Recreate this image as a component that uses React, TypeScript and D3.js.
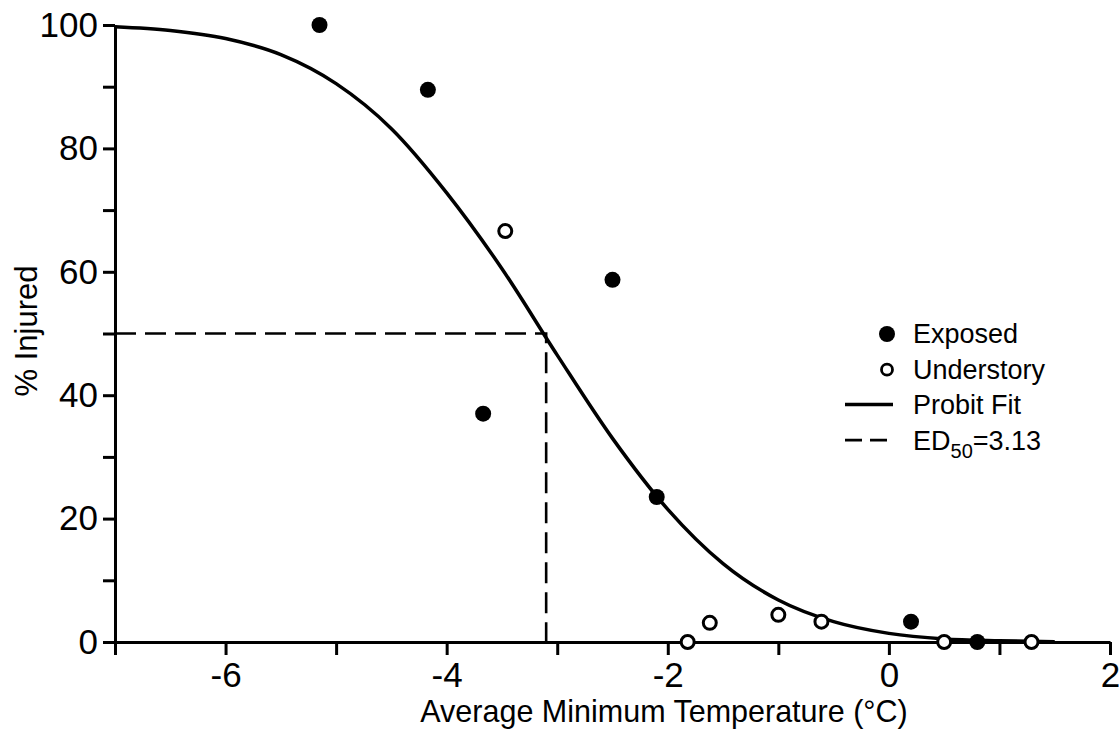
// Probit fit chart: % injured vs. average minimum temperature
import React, { useRef, useEffect } from 'react';
import * as d3 from 'd3';

const exposedTemp = [-5.15, -4.17, -3.67, -2.5, -2.1, 0.2, 0.8];
const exposedPct = [100, 89.5, 37, 58.7, 23.5, 3.3, 0];

const understoryTemp = [-3.47, -1.82, -1.62, -1.0, -0.61, 0.5, 1.29];
const understoryPct = [66.6, 0, 3.1, 4.4, 3.3, 0, 0];

// probit fit curve, sampled from the figure every half degree
const fitTemp = [-7, -6.5, -6, -5.5, -5, -4.5, -4, -3.5, -3, -2.5, -2, -1.5, -1, -0.5, 0, 0.5, 1, 1.5];
const fitPct = [99.7, 99.1, 97.8, 95.2, 90.5, 83.2, 72.8, 60.5, 46.5, 33, 21.5, 12.7, 6.8, 3.3, 1.4, 0.5, 0.2, 0.05];

// where the dashed ED50 guide sits in the figure
const ed50Temp = -3.1;
const ed50Pct = 50;

const xTicks = [-7, -6, -5, -4, -3, -2, -1, 0, 1, 2];
const xLabels = [-6, -4, -2, 0, 2];
const yTicks = [0, 10, 20, 30, 40, 50, 60, 70, 80, 90, 100];
const yLabels = [0, 20, 40, 60, 80, 100];

const legendItems = ['Exposed', 'Understory', 'Probit Fit', 'ED50'];

const FONT = '"Liberation Sans", Arial, sans-serif';

function App() {
  const ref = useRef(null);
  const width = 1119;
  const height = 738;

  useEffect(() => {
    const svg = d3.select(ref.current);
    svg.selectAll('*').remove();

    const x = d3.scaleLinear().domain([-7, 2]).range([115, 1110]);
    const y = d3.scaleLinear().domain([0, 100]).range([642, 25]);

    // dashed ED50 guide lines
    svg.append('path')
      .attr('d', `M${x(-7)},${y(ed50Pct)}H${x(ed50Temp)}V${y(0)}`)
      .attr('fill', 'none')
      .attr('stroke', '#000')
      .attr('stroke-width', 2.6)
      .attr('stroke-dasharray', '21,9');

    // x axis
    const xAxis = svg.append('g')
      .attr('transform', `translate(0,${y(0)})`)
      .call(d3.axisBottom(x)
        .tickValues(xTicks)
        .tickSize(13)
        .tickSizeOuter(0)
        .tickPadding(7)
        .tickFormat(d => (xLabels.includes(+d) ? String(d) : '')));

    // y axis
    const yAxis = svg.append('g')
      .attr('transform', `translate(${x(-7)},0)`)
      .call(d3.axisLeft(y)
        .tickValues(yTicks)
        .tickSize(12)
        .tickSizeOuter(0)
        .tickPadding(5)
        .tickFormat(d => (yLabels.includes(+d) ? String(d) : '')));

    [xAxis, yAxis].forEach(g => {
      g.select('.domain').attr('stroke', '#000').attr('stroke-width', 3);
      g.selectAll('.tick line').attr('stroke', '#000').attr('stroke-width', 3);
      g.selectAll('.tick text')
        .attr('fill', '#000')
        .style('font-family', FONT)
        .style('font-size', '35px');
    });

    // fit curve
    const line = d3.line()
      .x((d, i) => x(fitTemp[i]))
      .y((d, i) => y(fitPct[i]))
      .curve(d3.curveMonotoneX);
    svg.append('path')
      .datum(fitPct)
      .attr('d', line)
      .attr('fill', 'none')
      .attr('stroke', '#000')
      .attr('stroke-width', 3.5);

    // points
    svg.selectAll('.understory')
      .data(understoryTemp)
      .enter()
      .append('circle')
      .attr('class', 'understory')
      .attr('cx', d => x(d))
      .attr('cy', (d, i) => y(understoryPct[i]))
      .attr('r', 6.5)
      .style('fill', '#fff')
      .style('stroke', '#000')
      .style('stroke-width', 3);

    svg.selectAll('.exposed')
      .data(exposedTemp)
      .enter()
      .append('circle')
      .attr('class', 'exposed')
      .attr('cx', d => x(d))
      .attr('cy', (d, i) => y(exposedPct[i]))
      .attr('r', 8)
      .style('fill', '#000');

    // axis titles
    svg.append('text')
      .attr('x', 664)
      .attr('y', 722)
      .attr('text-anchor', 'middle')
      .style('font-family', FONT)
      .style('font-size', '30.5px')
      .text('Average Minimum Temperature (°C)');

    svg.append('text')
      .attr('transform', 'translate(37,331) rotate(-90)')
      .attr('text-anchor', 'middle')
      .style('font-family', FONT)
      .style('font-size', '31px')
      .text('% Injured');

    // legend
    const legend = svg.append('g').attr('transform', 'translate(845,343)');
    const rowH = 35.7;
    legendItems.forEach((name, i) => {
      const row = legend.append('g').attr('transform', `translate(0,${i * rowH})`);
      if (i === 0) {
        row.append('circle').attr('cx', 42).attr('cy', -9).attr('r', 8).style('fill', '#000');
      } else if (i === 1) {
        row.append('circle').attr('cx', 42).attr('cy', -9).attr('r', 5.5)
          .style('fill', '#fff').style('stroke', '#000').style('stroke-width', 2.8);
      } else if (i === 2) {
        row.append('line').attr('x1', 0).attr('x2', 48).attr('y1', -10).attr('y2', -10)
          .attr('stroke', '#000').attr('stroke-width', 3.5);
      } else {
        row.append('line').attr('x1', 0).attr('x2', 48).attr('y1', -10).attr('y2', -10)
          .attr('stroke', '#000').attr('stroke-width', 2.6).attr('stroke-dasharray', '17,8');
      }
      const t = row.append('text')
        .attr('x', 68)
        .attr('y', 0)
        .style('font-family', FONT)
        .style('font-size', '27px');
      if (name === 'ED50') {
        t.append('tspan').text('ED');
        t.append('tspan').attr('dy', 8).style('font-size', '20px').text('50');
        t.append('tspan').attr('dy', -8).text('=3.13');
      } else {
        t.text(name);
      }
    });
  }, []);

  return (
    <svg
      ref={ref}
      width={width}
      height={height}
      style={{ position: 'absolute', left: 0, top: 0, background: '#fff' }}
    />
  );
}

export default App;
